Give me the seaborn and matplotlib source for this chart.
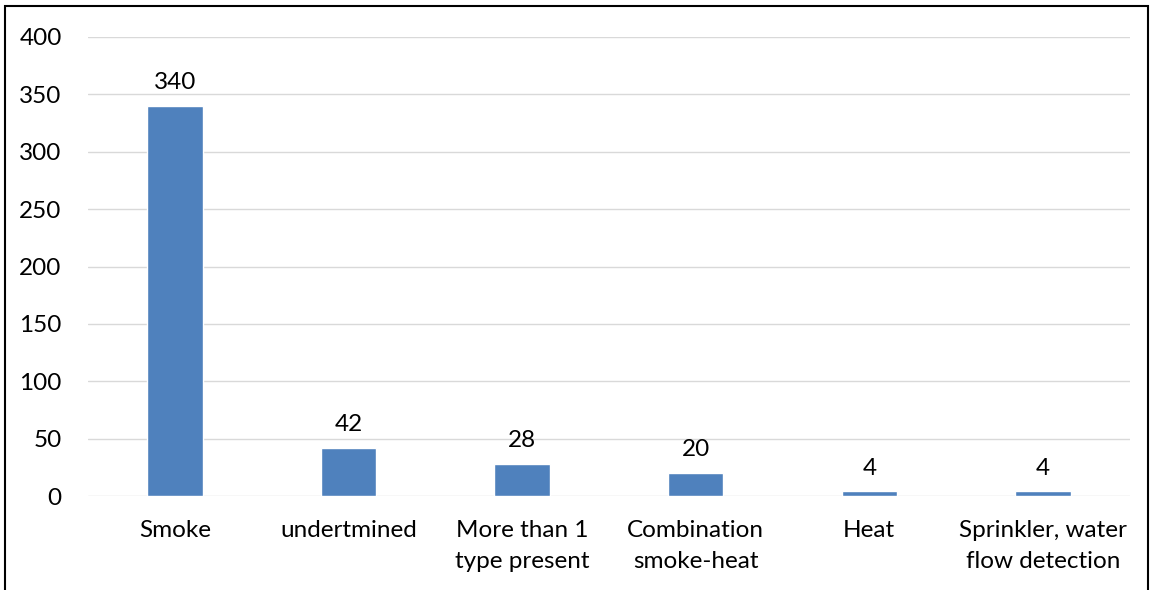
import matplotlib
matplotlib.use("Agg")
import matplotlib.pyplot as plt
import seaborn as sns
import pandas as pd
from matplotlib.patches import Rectangle

# Data
categories = ["Smoke", "undertmined", "More than 1\ntype present",
              "Combination\nsmoke-heat", "Heat", "Sprinkler, water\nflow detection"]
counts = [340, 42, 28, 20, 4, 4]
yticks = [0, 50, 100, 150, 200, 250, 300, 350, 400]

df = pd.DataFrame({"Alarm": categories, "Count": counts})

sns.set_style("white")
plt.rcParams['font.family'] = ['Lato', 'DejaVu Sans']

fig = plt.figure(figsize=(11.51, 5.90), dpi=100)
ax = fig.add_axes([0.0765, 0.1593, 0.905, 0.778])

sns.barplot(data=df, x="Alarm", y="Count", color="#4F81BD", saturation=1,
            width=0.32, ax=ax)

for i, v in enumerate(counts):
    ax.text(i, v + 11, str(v), ha="center", va="bottom", fontsize=17.5, color="black")

ax.set_ylim(0, 400)
ax.set_xlim(-0.5, len(categories) - 0.5)
ax.set_yticks(yticks)
ax.set_yticklabels([str(t) for t in yticks], fontsize=17.5)
ax.set_xticks(range(len(categories)))
ax.set_xticklabels(categories, fontsize=17.5, linespacing=1.6)
ax.tick_params(axis="x", length=0, pad=17, colors="black")
ax.tick_params(axis="y", length=0, pad=19, colors="black")
ax.set_xlabel("")
ax.set_ylabel("")
ax.yaxis.grid(True, color="#D9D9D9", linewidth=1)
ax.set_axisbelow(True)
for s in ax.spines.values():
    s.set_visible(False)

# outer chart border
fig.patches.append(Rectangle((5 / 1151, -0.05), 1143 / 1151, 1.05 - 6 / 590,
                             transform=fig.transFigure, fill=False,
                             edgecolor="black", linewidth=1.5))

fig.savefig("out.png", dpi=100)
